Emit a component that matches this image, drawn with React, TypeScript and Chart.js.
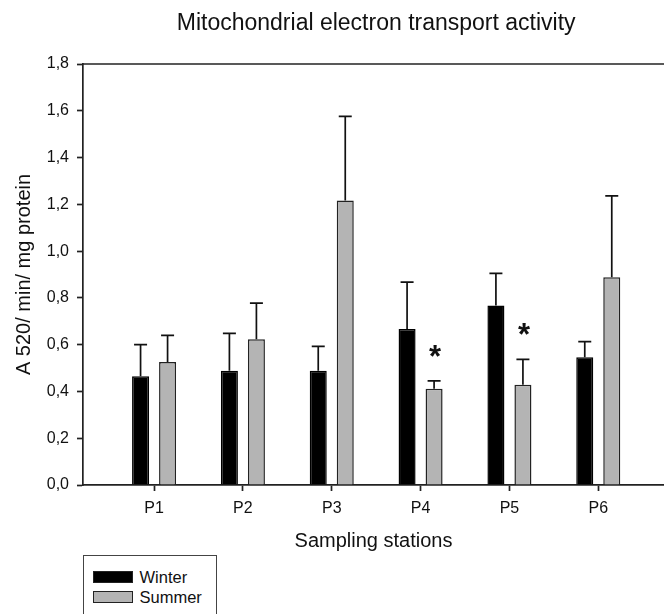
import React, { useEffect, useRef } from 'react';
import { Chart, registerables } from 'chart.js';

Chart.register(...registerables);

// ---- data ----
const stations = ['P1', 'P2', 'P3', 'P4', 'P5', 'P6'];
const seriesNames = ['Winter', 'Summer'];
const winterValues = [0.465, 0.489, 0.489, 0.667, 0.767, 0.546];
const winterErrors = [0.135, 0.159, 0.104, 0.2, 0.138, 0.067];
const summerValues = [0.526, 0.623, 1.216, 0.412, 0.429, 0.888];
const summerErrors = [0.114, 0.155, 0.36, 0.033, 0.108, 0.348];
const summerMarks = ['', '', '', '*', '*', ''];
const winterMarks = ['', '', '', '', '', ''];
const yTickValues = [0, 0.2, 0.4, 0.6, 0.8, 1.0, 1.2, 1.4, 1.6, 1.8];
const titleText = 'Mitochondrial electron transport activity';
const xTitleText = 'Sampling stations';
const yTitleText = 'A 520/ min/ mg protein';

const seriesColors = ['#000000', '#b4b4b4'];
const FONT = '"Liberation Sans", Arial, sans-serif';
const INK = '#111111';

const errorBarPlugin = {
  id: 'errorBars',
  afterDatasetsDraw(chart: any) {
    const ctx = chart.ctx;
    const yScale = chart.scales.y;
    chart.data.datasets.forEach((ds: any, i: number) => {
      const meta = chart.getDatasetMeta(i);
      meta.data.forEach((bar: any, j: number) => {
        const v = ds.data[j].y;
        const e = ds.errors[j];
        const yTop = yScale.getPixelForValue(v + e);
        ctx.save();
        ctx.strokeStyle = INK;
        ctx.lineWidth = 1.7;
        ctx.beginPath();
        ctx.moveTo(bar.x, bar.y);
        ctx.lineTo(bar.x, yTop);
        ctx.moveTo(bar.x - 6.5, yTop);
        ctx.lineTo(bar.x + 6.5, yTop);
        ctx.stroke();
        const mark = ds.marks[j];
        if (mark) {
          ctx.fillStyle = INK;
          ctx.font = 'bold 31px ' + FONT;
          ctx.textAlign = 'center';
          ctx.textBaseline = 'alphabetic';
          ctx.fillText(mark, bar.x + 1, yTop - 14);
        }
        ctx.restore();
      });
    });
  },
};

const frameTitlePlugin = {
  id: 'frameTitle',
  afterDraw(chart: any) {
    const { ctx, chartArea } = chart;
    ctx.save();
    ctx.strokeStyle = '#222222';
    ctx.lineWidth = 1.7;
    ctx.beginPath();
    ctx.moveTo(chartArea.left, chartArea.top);
    ctx.lineTo(chartArea.right, chartArea.top);
    ctx.stroke();
    ctx.fillStyle = INK;
    ctx.font = '23px ' + FONT;
    ctx.textAlign = 'center';
    ctx.textBaseline = 'middle';
    const xs = chart.scales.x;
    const cx = (xs.getPixelForValue(xs.min) + xs.getPixelForValue(6.8)) / 2;
    ctx.fillText(titleText, cx, 24);
    ctx.restore();
  },
};

export default function App() {
  const canvasRef = useRef<HTMLCanvasElement | null>(null);

  useEffect(() => {
    if (!canvasRef.current) return;
    const chart = new Chart(canvasRef.current, {
      type: 'bar',
      data: {
        datasets: [
          {
            label: seriesNames[0],
            data: stations.map((_, i) => ({ x: i + 1, y: winterValues[i] })),
            errors: winterErrors,
            marks: winterMarks,
            backgroundColor: seriesColors[0],
            borderColor: '#000000',
            borderWidth: 1.5,
            categoryPercentage: 0.608,
            barPercentage: 0.63,
          } as any,
          {
            label: seriesNames[1],
            data: stations.map((_, i) => ({ x: i + 1, y: summerValues[i] })),
            errors: summerErrors,
            marks: summerMarks,
            backgroundColor: seriesColors[1],
            borderColor: '#222222',
            borderWidth: 1.5,
            categoryPercentage: 0.608,
            barPercentage: 0.63,
          } as any,
        ],
      },
      options: {
        responsive: false,
        animation: false,
        devicePixelRatio: 1,
        layout: { padding: { top: 64, bottom: 49, left: 0, right: 0 } },
        plugins: {
          legend: { display: false },
          title: { display: false },
          tooltip: { enabled: false },
        },
        scales: {
          x: {
            type: 'linear',
            min: 0.2,
            max: 6.74,
            offset: false,
            afterBuildTicks: (axis: any) => {
              axis.ticks = stations.map((_, i) => ({ value: i + 1 }));
            },
            afterFit: (s: any) => {
              s.height = 80;
            },
            grid: {
              display: true,
              drawOnChartArea: false,
              drawTicks: true,
              tickLength: 6,
              tickWidth: 1.7,
              tickColor: '#222222',
              offset: false,
            },
            border: { display: true, color: '#222222', width: 1.7 },
            ticks: {
              color: INK,
              font: { family: FONT, size: 16 },
              padding: 8,
              autoSkip: false,
              maxRotation: 0,
              callback: (v: any) => stations[Math.round(v) - 1] ?? '',
            },
            title: {
              display: true,
              text: xTitleText,
              color: INK,
              font: { family: FONT, size: 20 },
              padding: { top: 0, bottom: 12 },
            },
          },
          y: {
            min: 0,
            max: 1.8,
            afterBuildTicks: (axis: any) => {
              axis.ticks = yTickValues.map((v) => ({ value: v }));
            },
            afterFit: (s: any) => {
              s.width = 83;
            },
            grid: {
              display: true,
              drawOnChartArea: false,
              drawTicks: true,
              tickLength: 6,
              tickWidth: 1.7,
              tickColor: '#222222',
            },
            border: { display: true, color: '#222222', width: 1.7 },
            ticks: {
              color: INK,
              font: { family: FONT, size: 16 },
              padding: 8,
              callback: (v: any) => Number(v).toFixed(1).replace('.', ','),
            },
            title: {
              display: true,
              text: yTitleText,
              color: INK,
              font: { family: FONT, size: 20 },
              padding: { top: 12, bottom: 0 },
            },
          },
        },
      } as any,
      plugins: [errorBarPlugin, frameTitlePlugin],
    });
    return () => chart.destroy();
  }, []);

  const legendRow = (i: number, top: number) => (
    <div
      key={seriesNames[i]}
      style={{
        position: 'absolute',
        left: 8.5,
        top,
        height: 12,
        display: 'flex',
        alignItems: 'center',
      }}
    >
      <div
        style={{
          width: 40,
          height: 12,
          boxSizing: 'border-box',
          background: seriesColors[i],
          border: '1.5px solid #222',
        }}
      />
      <span
        style={{
          marginLeft: 7,
          fontFamily: FONT,
          fontSize: 16.5,
          lineHeight: '12px',
          color: INK,
          whiteSpace: 'nowrap',
        }}
      >
        {seriesNames[i]}
      </span>
    </div>
  );

  return (
    <div
      style={{
        position: 'absolute',
        left: 0,
        top: 0,
        width: 664,
        height: 614,
        overflow: 'hidden',
        background: '#ffffff',
      }}
    >
      <canvas ref={canvasRef} width={664} height={614} style={{ display: 'block' }} />
      <div
        style={{
          position: 'absolute',
          left: 83,
          top: 555,
          width: 134,
          height: 80,
          boxSizing: 'border-box',
          border: '1.5px solid #444',
          background: '#ffffff',
        }}
      >
        {legendRow(0, 14.5)}
        {legendRow(1, 34.5)}
      </div>
    </div>
  );
}
